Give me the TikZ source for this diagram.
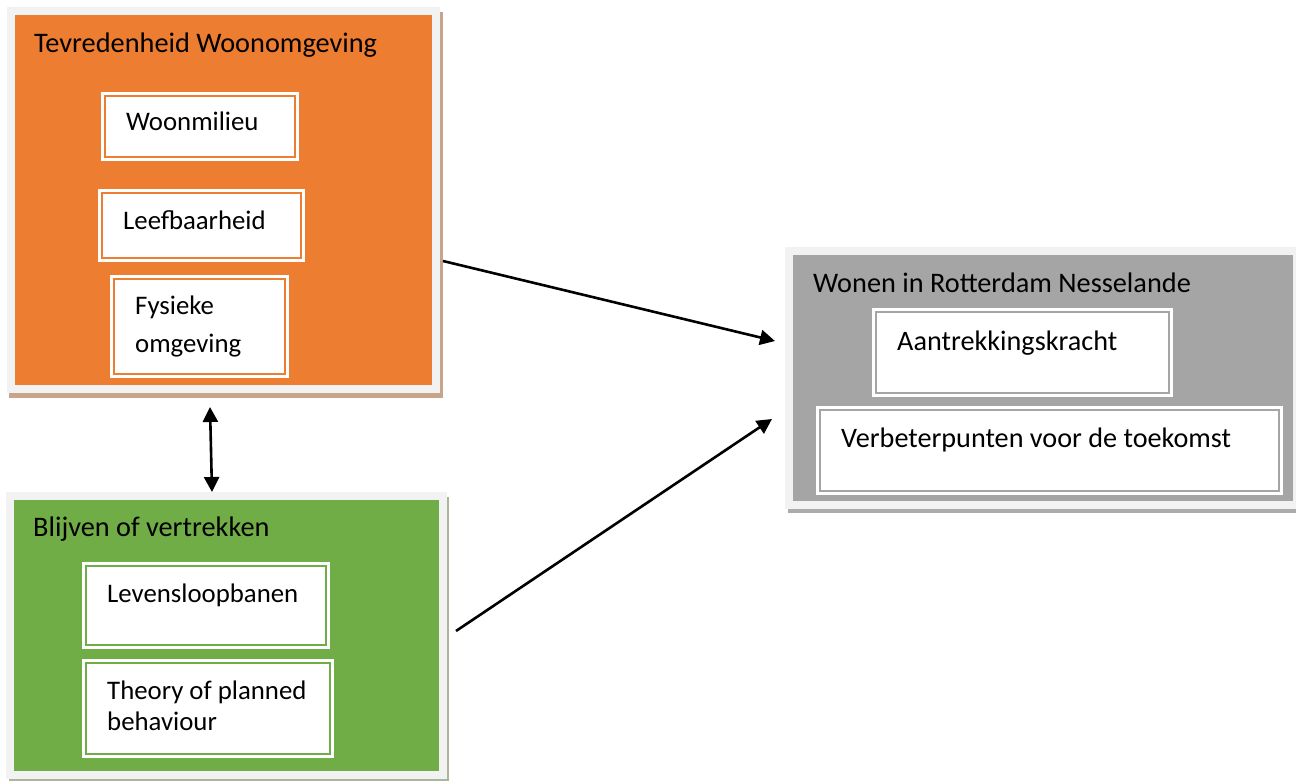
\documentclass[tikz,border=0pt]{standalone}
\usepackage{fontspec}
\setmainfont{Carlito}
\usetikzlibrary{arrows.meta}
\definecolor{cOr}{HTML}{ED7D31}
\definecolor{cGn}{HTML}{70AD47}
\definecolor{cGy}{HTML}{A5A5A5}
\definecolor{cFr}{HTML}{F2F2F2}
\definecolor{cBr}{HTML}{C8A48A}
\definecolor{cGs}{HTML}{A9B59C}
\definecolor{cYs}{HTML}{ABABAB}
\begin{document}
\begin{tikzpicture}[x=1pt,y=-1pt,
  bigbox/.style={draw=cFr, line width=8pt, inner sep=0pt, outer sep=0pt, anchor=north west},
  inbox/.style={fill=white, draw=none, inner sep=0pt, outer sep=0pt, anchor=north west,
    path picture={\draw[#1, line width=2pt]
      ([shift={(4,4)}]path picture bounding box.north west) rectangle
      ([shift={(-4,-4)}]path picture bounding box.south east);}},
  ttl/.style={font=\fontsize{28.3}{38}\selectfont, inner sep=0pt, anchor=base west},
  tx/.style={font=\fontsize{26.8}{36}\selectfont, inner sep=0pt, anchor=base west},
  txg/.style={font=\fontsize{28.2}{36}\selectfont, inner sep=0pt, anchor=base west},
  arr/.style={line width=2.6pt, -{Triangle[length=15pt,width=15pt]}},
  darr/.style={line width=2.6pt, {Triangle[length=15pt,width=15pt]}-{Triangle[length=15pt,width=15pt]}}]
\useasboundingbox (0,0) rectangle (1296,780);
\fill[white] (0,0) rectangle (1296,780);

% shadows
\fill[cBr] (9,12) rectangle (443,398);
\fill[cGs] (9,497) rectangle (449,782);
\fill[cYs] (788,252) rectangle (1300,513);

% big boxes
\node[bigbox, fill=cOr, minimum width=425, minimum height=378] (tev) at (11,11) {};
\node[bigbox, fill=cGn, minimum width=433, minimum height=278.5] (bli) at (10,496) {};
\node[bigbox, fill=cGy, minimum width=508, minimum height=253.5] (won) at (789,251) {};

% titles
\node[ttl] (tevt) at (34,52) {Tevredenheid Woonomgeving};
\node[ttl] (blit) at (33,536) {Blijven of vertrekken};
\node[ttl] (wont) at (813,292) {Wonen in Rotterdam Nesselande};

% inner boxes, orange
\node[inbox=cOr, minimum width=198, minimum height=69] (woo) at (101,92) {};
\node[inbox=cOr, minimum width=207, minimum height=73] (lee) at (98,189) {};
\node[inbox=cOr, minimum width=179, minimum height=103] (fys) at (110,275) {};
\node[tx] (woot) at (126,130) {Woonmilieu};
\node[tx] (leet) at (123,229) {Leefbaarheid};
\node[tx] (fyst1) at (135,314) {Fysieke};
\node[tx] (fyst2) at (135,352) {omgeving};

% inner boxes, green
\node[inbox=cGn, minimum width=248, minimum height=87] (lev) at (82,562) {};
\node[inbox=cGn, minimum width=252, minimum height=99] (the) at (82,659) {};
\node[tx] (levt) at (107,602) {Levensloopbanen};
\node[tx] (thet1) at (107,699) {Theory of planned};
\node[tx] (thet2) at (107,730) {behaviour};

% inner boxes, grey
\node[inbox=cGy, minimum width=301, minimum height=89] (aan) at (872,308) {};
\node[inbox=cGy, minimum width=467, minimum height=89] (ver) at (816,406) {};
\node[txg] (aant) at (897,350) {Aantrekkingskracht};
\node[txg] (vert) at (841,447) {Verbeterpunten voor de toekomst};

% connectors
\coordinate (a1s) at (443,261);
\coordinate (a1e) at (775,341);
\coordinate (a2s) at (456,631);
\coordinate (a2e) at (772,419);
\coordinate (a3s) at (210,407);
\coordinate (a3e) at (212,492);
\draw[arr] (a1s) -- (a1e);
\draw[arr] (a2s) -- (a2e);
\draw[darr] (a3s) -- (a3e);
\end{tikzpicture}
\end{document}
